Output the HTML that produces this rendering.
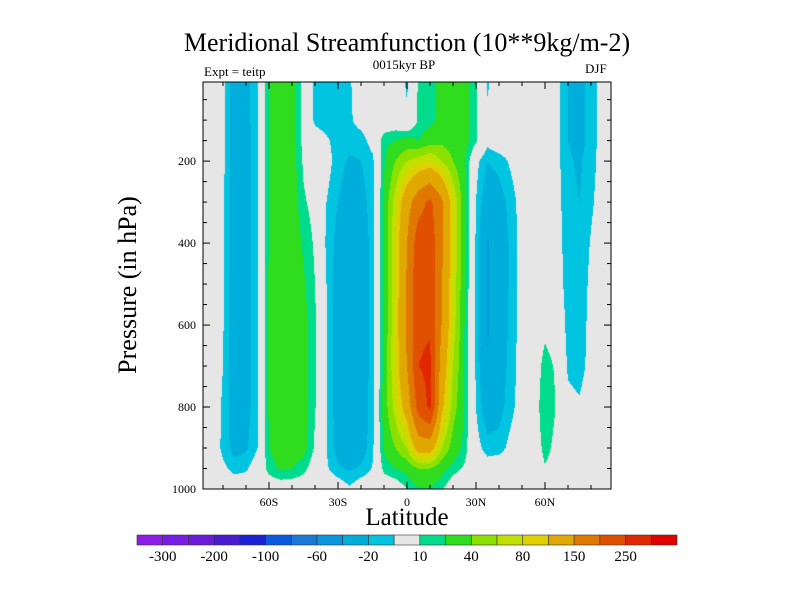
<!DOCTYPE html>
<html><head><meta charset="utf-8">
<style>
body{margin:0;background:#fff;width:800px;height:600px;overflow:hidden;position:relative;font-family:"Liberation Serif",serif;}
.t{position:absolute;white-space:nowrap;color:#000;}
</style></head><body>
<div class="t" style="left:0;width:814px;text-align:center;top:28px;font-size:26px;">Meridional Streamfunction (10**9kg/m-2)</div>
<div class="t" style="left:0;width:808px;text-align:center;top:57px;font-size:13px;">0015kyr BP</div>
<div class="t" style="left:204px;top:64px;font-size:13px;">Expt = teitp</div>
<div class="t" style="left:585px;top:61px;font-size:13px;">DJF</div>
<div class="t" style="left:0;width:814px;text-align:center;top:504px;font-size:25px;">Latitude</div>
<div class="t" style="left:128px;top:285px;font-size:26px;transform:translate(-50%,-50%) rotate(-90deg);">Pressure (in hPa)</div>
<canvas id="cv" width="408" height="407" style="position:absolute;left:203px;top:82px;"></canvas>
<svg id="sv" width="800" height="600" style="position:absolute;left:0;top:0;"></svg>
<script>
const lats=[-90,-85,-80,-75,-70,-65,-60,-55,-50,-45,-40,-35,-30,-25,-20,-15,-10,-5,0,5,10,15,20,25,30,35,40,45,50,55,60,65,70,75,80,85,90];
const levels=[10,100,150,200,300,400,500,600,700,800,900,950,1000];
const p10=[0,0,-7,-28,-25,-12,20,30,25,5,-14,-16,-15,-12,0,0,0,0,-12,12,15,25,30,25,12,-12,0,0,0,0,0,-6,-20,-25,-15,-5,0];
const p100=[0,0,-7,-28,-25,-12,20,30,25,5,-13,-16,-15,-12,-5,0,0,0,-8,12,15,25,30,25,12,-6,0,0,0,0,0,-6,-20,-25,-15,-5,0];
const p150=[0,0,-7,-28,-26,-12,20,30,26,6,-2,-8,-15,-15,-15,-5,16,20,25,20,30,35,30,25,12,-5,0,0,0,0,0,-6,-20,-25,-15,-5,0];
const p200=[0,0,-7,-28,-26,-12,20,30,27,8,-2,-5,-15,-22,-20,-13,18,40,60,70,80,60,40,22,-6,-20,-16,-8,0,0,0,-6,-18,-22,-14,-5,0];
const p300=[0,0,-8,-28,-26,-12,21,31,28,12,5,-10,-20,-28,-25,-15,22,70,130,180,210,160,80,25,-10,-30,-26,-16,-4,0,0,-5,-17,-20,-12,-4,0];
const p400=[0,0,-8,-28,-27,-12,21,31,30,18,8,-12,-25,-32,-30,-15,22,80,150,230,230,160,80,25,-12,-42,-30,-18,-4,0,0,-4,-16,-18,-9,-3,0];
const p500=[0,0,-9,-29,-27,-12,22,32,32,22,10,-10,-27,-32,-30,-15,22,80,155,240,240,155,75,22,-12,-42,-30,-18,-4,0,2,-3,-15,-17,-7,-2,0];
const p600=[0,0,-9,-29,-27,-12,22,32,32,25,12,-10,-28,-32,-30,-15,22,80,160,240,245,150,70,20,-12,-42,-30,-17,-4,0,6,2,-14,-16,-6,-2,0];
const p700=[0,0,-10,-29,-27,-12,22,32,32,26,12,-10,-28,-32,-30,-15,24,80,150,250,260,130,60,20,-12,-38,-28,-16,-4,0,15,8,-12,-15,-5,-1,0];
const p800=[0,0,-12,-28,-26,-11,22,32,31,26,11,-10,-27,-32,-30,-14,27,70,120,220,260,110,50,18,-10,-30,-25,-14,-3,0,20,9,-6,-8,-2,0,0];
const p900=[0,0,-13,-25,-22,-10,20,30,28,25,8,-10,-25,-30,-28,-13,22,40,60,120,120,60,30,15,-5,-15,-15,-6,0,0,14,6,0,0,0,0,0];
const p950=[0,0,-7,-14,-12,-2,14,22,20,14,2,-8,-18,-22,-18,-9,13,20,25,40,40,25,15,8,0,-3,0,0,0,0,9,4,0,0,0,0,0];
const p1000=[0,0,0,0,0,0,0,0,0,0,0,0,0,-8,0,0,0,0,10,18,18,12,0,0,0,0,0,0,0,0,0,0,0,0,0,0,0];
const field=[p10,p100,p150,p200,p300,p400,p500,p600,p700,p800,p900,p950,p1000];
const bounds=[-300,-250,-200,-150,-100,-80,-60,-40,-20,-10,10,20,40,60,80,100,150,200,250,300];
const colors=["#8c1ce6","#7a1ce6","#6a1ad8","#4a1ad0","#1a22d8","#0a5ae0","#1a78d8","#0a96dc","#00aedc","#00c4e0","#e6e6e6","#00dc8c","#30dc1e","#8ce000","#c0e000","#e0d000","#e0a800","#e07800","#e05000","#e02800","#e00000"];
const xTicks=[-60,-30,0,30,60];
const xTickLabels=["60S","30S","0","30N","60N"];
const yTicks=[200,400,600,800,1000];
const cbLabels=["-300","-200","-100","-60","-20","10","40","80","150","250"];

const PX0=203,PX1=611,PY0=82,PY1=489,LAT0=-88.7,LAT1=88.7,P0=7,P1=1000;
const xs=l=>PX0+(l-LAT0)/(LAT1-LAT0)*(PX1-PX0);
const ys=p=>PY0+(p-P0)/(P1-P0)*(PY1-PY0);
function idx(arr,v){for(let i=0;i<arr.length-1;i++){if(v<=arr[i+1])return i;}return arr.length-2;}
function val(lat,p){
  const i=idx(lats,lat), j=idx(levels,Math.max(levels[0],p));
  const tx=Math.min(1,Math.max(0,(lat-lats[i])/(lats[i+1]-lats[i])));
  const ty=Math.min(1,Math.max(0,(p-levels[j])/(levels[j+1]-levels[j])));
  const a=field[j][i],b=field[j][i+1],c=field[j+1][i],d=field[j+1][i+1];
  return (a*(1-tx)+b*tx)*(1-ty)+(c*(1-tx)+d*tx)*ty;
}
const cv=document.getElementById('cv'),ctx=cv.getContext('2d');
const rgb=colors.map(c=>[parseInt(c.substr(1,2),16),parseInt(c.substr(3,2),16),parseInt(c.substr(5,2),16)]);
const img=ctx.createImageData(cv.width,cv.height);
for(let y=0;y<cv.height;y++){
  const p=P0+(y+0.5)/cv.height*(P1-P0);
  for(let x=0;x<cv.width;x++){
    const lat=LAT0+(x+0.5)/cv.width*(LAT1-LAT0);
    const v=val(lat,p);let k=0;while(k<bounds.length&&v>=bounds[k])k++;
    const o=(y*cv.width+x)*4;img.data[o]=rgb[k][0];img.data[o+1]=rgb[k][1];img.data[o+2]=rgb[k][2];img.data[o+3]=255;
  }
}
ctx.putImageData(img,0,0);

const NS='http://www.w3.org/2000/svg',sv=document.getElementById('sv');
function mk(tag,at,parent){const e=document.createElementNS(NS,tag);for(const k in at)e.setAttribute(k,at[k]);(parent||sv).appendChild(e);return e;}
const frame=mk('rect',{x:PX0,y:PY0,width:PX1-PX0,height:PY1-PY0,fill:'none',stroke:'#000','stroke-width':1});


for(let l=-80;l<=80;l+=10){
  const x=xs(l),major=xTicks.includes(l),len=major?7:4;
  mk('line',{x1:x,x2:x,y1:PY1,y2:PY1-len,stroke:'#000'});
  mk('line',{x1:x,x2:x,y1:PY0,y2:PY0+len,stroke:'#000'});
}
xTicks.forEach((l,i)=>{
  const t=mk('text',{x:xs(l),y:PY1+17,'text-anchor':'middle','font-size':12,'font-family':'Liberation Serif, serif'});
  t.textContent=xTickLabels[i];
  
  
});
for(let p=50;p<=1000;p+=50){
  const y=ys(p),major=yTicks.includes(p),len=major?7:4;
  mk('line',{x1:PX0,x2:PX0+len,y1:y,y2:y,stroke:'#000'});
  mk('line',{x1:PX1,x2:PX1-len,y1:y,y2:y,stroke:'#000'});
}
yTicks.forEach(p=>{
  const t=mk('text',{x:PX0-7,y:ys(p)+4,'text-anchor':'end','font-size':12,'font-family':'Liberation Serif, serif'});
  t.textContent=p;
  
  
});
const CB0=137,CB1=677,CBY=535,CBH=10,bw=(CB1-CB0)/colors.length;
colors.forEach((c,i)=>{
  const r=mk('rect',{x:CB0+i*bw,y:CBY,width:bw,height:CBH,fill:c,stroke:'#333','stroke-width':0.6});
  
  
});
cbLabels.forEach((s,i)=>{
  const t=mk('text',{x:CB0+(1+2*i)*bw,y:CBY+CBH+16,'text-anchor':'middle','font-size':15,'font-family':'Liberation Serif, serif'});
  t.textContent=s;
  
  
});
</script>
</body></html>
